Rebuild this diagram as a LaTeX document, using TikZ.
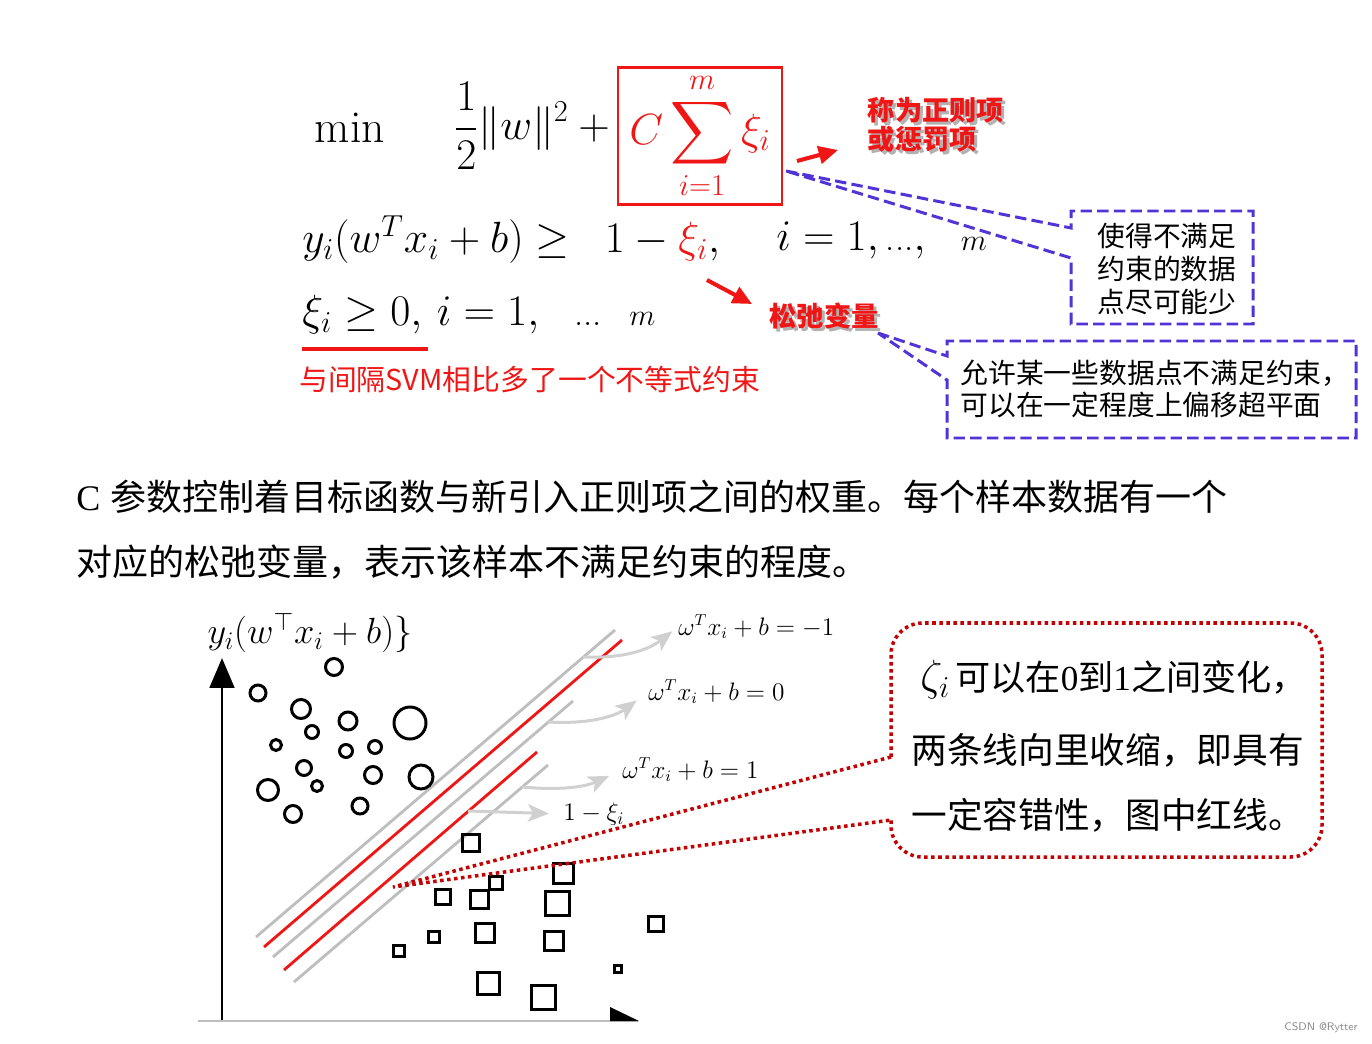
\documentclass[tikz,border=0pt]{standalone}
\usepackage{fontspec}
\usepackage{amsmath,amssymb}
\newfontfamily\cjk{Noto Sans CJK SC}
\newfontfamily\tms{Liberation Serif}
\usetikzlibrary{shapes,arrows.meta}
\definecolor{callblue}{RGB}{82,52,214}
\definecolor{callred}{RGB}{196,0,0}
\definecolor{hotred}{RGB}{240,22,22}
\definecolor{guidegray}{RGB}{208,208,208}
\definecolor{planegray}{RGB}{190,190,190}
\newcommand{\smalldots}{\text{\fontsize{21}{24}\selectfont...}}

\begin{document}
\begin{tikzpicture}[x=0.02cm,y=-0.02cm,inner sep=0pt,
		bluecall/.style={draw=callblue,line width=1.7pt,dash pattern=on 6.5pt off 3pt},
		redcall/.style={draw=callred,line width=2pt,dash pattern=on 2pt off 2pt},
		hotarrow/.style={draw=hotred,line width=2.3pt,-{Triangle[length=11pt,width=10pt]}},
		guide/.style={draw=guidegray,line width=1.7pt,-{Stealth[length=12pt,width=10pt,inset=3pt]}},
		plane/.style={draw=planegray,line width=1.6pt},
		softplane/.style={draw=hotred,line width=1.6pt},
		pt/.style={draw=black,line width=1.7pt},
		shade/.style={text=black!30},
		bignote/.style={font={\cjk\bfseries\fontsize{15.5}{16.5}\selectfont},align=left},
		boxnote/.style={font={\cjk\fontsize{15.8}{18.7}\selectfont}},
		formula/.style={font={\fontsize{26}{31}\selectfont}}]
		\useasboundingbox (0,0) rectangle (1372,1044);
		\fill[white] (0,0) rectangle (1372,1044);
		
		\node[formula] at (350,128) (minop) {$\min$};
		\node[formula,anchor=east] at (620,126) (objhalf) {$\displaystyle\frac{1}{2}\|w\|^2+{}$};
		\node[draw=hotred,line width=1.3pt,minimum width=93pt,minimum height=78pt,text=hotred,font={\fontsize{25}{30}\selectfont}] at (700,136) (penalty) {$\displaystyle C\sum_{i=1}^{m}\xi_i$};
		\node[formula,anchor=west] at (302,240) (cons) {$y_i(w^Tx_i+b)\geq\enspace 1-{\color{hotred}\xi_i},$};
		\node[formula,anchor=west] at (776,240) (range) {$i=1,\smalldots,\hspace{16pt}{\scriptstyle m}$};
		\node[formula,anchor=west] at (302,315) (slackcons) {$\xi_i\geq 0,\, i=1,\ \ \smalldots\ \ {\scriptstyle m}$};
		\draw[hotred,line width=2.3pt] (302,349) -- (428,349);
		\node[anchor=west,text=hotred,font={\cjk\fontsize{16.4}{19}\selectfont}] at (299,380) (extra) {与间隔SVM相比多了一个不等式约束};
		
		\node[shade,bignote] at (939,128) {称为正则项\\或惩罚项};
		\node[text=hotred,bignote] at (936,125) (regname) {称为正则项\\或惩罚项};
		\node[shade,bignote] at (827,319) {松弛变量};
		\node[text=hotred,bignote] at (824,316) (slackname) {松弛变量};
		\coordinate (regfrom) at (797,161);
		\coordinate (regto) at (838,150);
		\coordinate (slackfrom) at (707,280);
		\coordinate (slackto) at (752,304);
		\draw[hotarrow] (regfrom) -- (regto);
		\draw[hotarrow] (slackfrom) -- (slackto);
		
		\coordinate (tipA) at (786,171);
		\node[boxnote,align=center] at (1167,269) (fewviol) {使得不满足\\约束的数据\\点尽可能少};
		\draw[bluecall] (tipA) -- (1071,228) -- (1071,211) -- (1253,211) -- (1253,324) -- (1071,324) -- (1071,258) -- cycle;
		\coordinate (tipC) at (878,333);
		\node[boxnote,align=left] at (1155,389) (allowviol) {允许某一些数据点不满足约束，\\可以在一定程度上偏移超平面};
		\draw[bluecall] (tipC) -- (947,356) -- (947,341) -- (1356,341) -- (1356,438) -- (947,438) -- (947,380) -- cycle;
		
		\node[anchor=west,font={\fontsize{20.5}{24}\selectfont}] at (76,497) (para1) {{\tms C}\hspace{6pt}\cjk 参数控制着目标函数与新引入正则项之间的权重。每个样本数据有一个};
		\node[anchor=west,font={\cjk\fontsize{20.5}{24}\selectfont}] at (76,562) (para2) {对应的松弛变量，表示该样本不满足约束的程度。};
		
		\draw[plane] (256,937) -- (615,630);
		\draw[softplane] (264,947) -- (622,640);
		\draw[plane] (273,957) -- (573,701);
		\draw[softplane] (284,970) -- (537,752);
		\draw[plane] (294,982) -- (548,765);
		
		\foreach \x/\y/\r in {334/667/8.5, 258/693/8, 301/709/9.5, 348/721/9, 410/723/16,
			312/732/6.5, 276/745/5.5, 375/747/6.5, 346/751/6.5, 304/768/7.5, 373/775/8.5,
			421/777/12, 317/786/5.5, 268/790/10.5, 360/806/8, 293/814/8.5}
		\draw[pt] (\x,\y) circle (\r);
		\foreach \x/\y/\s in {471/843/8.5, 563/873/10, 496/883/6.5, 443/897/7.5, 479/899/9,
			557/903/12, 656/924/7.5, 434/937/5.5, 485/933/9.5, 554/941/9.5, 399/951/5.5,
			618/969/3.5, 488/983/11, 543/997/12}
		\draw[pt,shift={(\x,\y)}] (-\s,-\s) rectangle (\s,\s);
		
		\coordinate (orig) at (222,1022);
		\coordinate (ytop) at (222,658);
		\draw[line width=1.7pt,-{Triangle[length=17pt,width=14pt]}] (orig) -- (ytop);
		\draw[planegray,line width=1.3pt] (198,1021) -- (638,1021);
		\fill (610,1007) -- (639,1021) -- (610,1021) -- cycle;
		\node[font={\fontsize{20}{24}\selectfont}] at (310,633) (ylab) {$y_i(w^\top x_i+b)\}$};
		
		\node[anchor=west,font={\fontsize{13.5}{16}\selectfont}] at (678,627) (lblneg) {$\omega^{T}x_{i}+b=-1$};
		\node[anchor=west,font={\fontsize{13.5}{16}\selectfont}] at (648,692) (lblzero) {$\omega^{T}x_{i}+b=0$};
		\node[anchor=west,font={\fontsize{13.5}{16}\selectfont}] at (622,770) (lblpos) {$\omega^{T}x_{i}+b=1$};
		\node[anchor=west,font={\fontsize{14}{16}\selectfont}] at (563,814) (lblslack) {$1-\xi_{i}$};
		\coordinate (onneg) at (583,657);
		\coordinate (onzero) at (548,722);
		\coordinate (onpos) at (522,787);
		\coordinate (onslack) at (468,811);
		\draw[guide,shorten >=4pt] (onneg) to[bend right=20] (lblneg.west);
		\draw[guide,shorten >=8pt] (onzero) to[bend right=20] (lblzero.west);
		\draw[guide,shorten >=8pt] (onpos) to[bend right=15] (lblpos.west);
		\draw[guide,shorten >=8pt] (onslack) -- (lblslack.west);
		
		\coordinate (tipB) at (393,887);
		\node[anchor=west,font={\fontsize{20}{24}\selectfont}] at (920,680) (vary) {{\fontsize{25}{28}\selectfont$\zeta_{i}$}\hspace{3pt}\cjk 可以在{\tms 0}到{\tms 1}之间变化，};
		\node[anchor=west,font={\cjk\fontsize{20.3}{24}\selectfont}] at (911,750) (shrink) {两条线向里收缩，即具有};
		\node[anchor=west,font={\cjk\fontsize{20.3}{24}\selectfont}] at (911,815) (tolerant) {一定容错性，图中红线。};
		\draw[redcall,rounded corners=18pt] (891,757) -- (891,623) -- (1322,623) -- (1322,857) -- (891,857) -- (891,820);
		\draw[redcall] (891,757) -- (tipB) -- (891,820);
		
		\node[anchor=east,text=black!45,font={\sffamily\fontsize{6.3}{7}\selectfont}] at (1358,1028) (wmark) {CSDN @Rytter};
	\end{tikzpicture}
\end{document}
